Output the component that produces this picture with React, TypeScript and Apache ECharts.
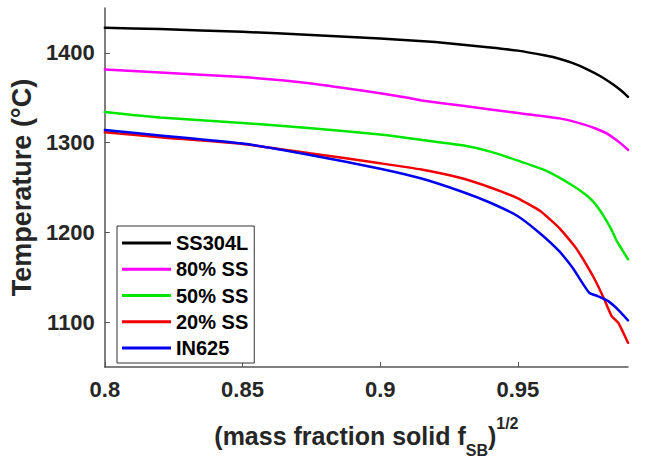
import React, { useEffect, useRef } from "react";
import * as echarts from "echarts";

const seriesNames = ["SS304L", "80% SS", "50% SS", "20% SS", "IN625"];
const seriesColors = ["#000000", "#ff00ff", "#00e600", "#f00000", "#0000f0"];

const ss304lX = [0.8, 0.82, 0.85, 0.875, 0.9, 0.92, 0.94, 0.95, 0.96, 0.965, 0.97, 0.975, 0.98, 0.985, 0.9875, 0.99];
const ss304lY = [1428, 1426.5, 1423.5, 1420, 1416, 1412, 1406, 1402.5, 1397, 1393.5, 1388.5, 1382, 1374, 1364, 1358, 1351];

const ss80X = [0.8, 0.82, 0.85, 0.875, 0.9, 0.91, 0.915, 0.93, 0.95, 0.955, 0.965, 0.972, 0.978, 0.983, 0.987, 0.99];
const ss80Y = [1381.5, 1378, 1373, 1366, 1355, 1350, 1347, 1341, 1333, 1331, 1327, 1322, 1316, 1309, 1300, 1292];

const ss50X = [0.8, 0.82, 0.85, 0.875, 0.9, 0.92, 0.93, 0.94, 0.95, 0.96, 0.97, 0.975, 0.978, 0.981, 0.984, 0.986, 0.988, 0.99];
const ss50Y = [1334, 1328, 1322, 1316, 1309, 1301, 1297, 1290, 1280, 1269, 1252, 1241, 1232, 1219, 1203, 1190, 1180, 1170];

const ss20X = [0.8, 0.82, 0.85, 0.875, 0.9, 0.915, 0.93, 0.94, 0.95, 0.958, 0.965, 0.971, 0.9775, 0.981, 0.984, 0.9865, 0.988, 0.99];
const ss20Y = [1311.5, 1306, 1298.5, 1288, 1277, 1270, 1260, 1250, 1238, 1224, 1205, 1183, 1150, 1128, 1107, 1099, 1090, 1077];

const in625X = [0.8, 0.82, 0.85, 0.875, 0.9, 0.915, 0.93, 0.94, 0.95, 0.958, 0.965, 0.97, 0.974, 0.976, 0.979, 0.9825, 0.985, 0.987, 0.99];
const in625Y = [1314, 1308, 1299, 1286, 1271, 1260, 1245, 1233, 1218, 1199, 1179, 1160, 1141, 1132.5, 1129, 1124, 1118, 1112, 1102];

const xTicks = [0.8, 0.85, 0.9, 0.95];
const yTicks = [1100, 1200, 1300, 1400];

const allX = [ss304lX, ss80X, ss50X, ss20X, in625X];
const allY = [ss304lY, ss80Y, ss50Y, ss20Y, in625Y];

const FONT = "Liberation Sans, Arial, Helvetica, sans-serif";

export default function App() {
  const ref = useRef<HTMLDivElement>(null);
  useEffect(() => {
    if (!ref.current) return;
    const chart = echarts.init(ref.current, null, { renderer: "svg" });
    const axisColor = "#555555";
    chart.setOption({
      animation: false,
      backgroundColor: "#ffffff",
      grid: { left: 103, top: 8, right: 19, bottom: 87, containLabel: false },
      legend: {
        orient: "vertical",
        left: 117,
        top: 226,
        padding: [7, 6, 5, 5],
        itemGap: 6.25,
        itemWidth: 49,
        itemHeight: 3,
        icon: "rect",
        borderColor: "#333333",
        borderWidth: 1,
        backgroundColor: "#ffffff",
        textStyle: { fontFamily: FONT, fontWeight: "bold", fontSize: 20, color: "#000000", lineHeight: 20 },
        data: seriesNames,
      },
      xAxis: {
        type: "value",
        min: 0.8,
        max: 0.99,
        name: "{a|(mass fraction solid f}{sub|SB}{a|)}{sup|1/2}",
        nameLocation: "middle",
        nameGap: 47,
        nameTextStyle: {
          fontFamily: FONT,
          fontWeight: "bold",
          fontSize: 25,
          color: "#262626",
          rich: {
            a: { fontFamily: FONT, fontWeight: "bold", fontSize: 25, color: "#262626", verticalAlign: "middle" },
            sub: { fontFamily: FONT, fontWeight: "bold", fontSize: 16, color: "#262626", padding: [28, 0, 0, 0], verticalAlign: "middle" },
            sup: { fontFamily: FONT, fontWeight: "bold", fontSize: 16, color: "#262626", padding: [0, 0, 26, 0], verticalAlign: "middle" },
          },
        },
        axisLine: { show: true, onZero: false, lineStyle: { color: axisColor, width: 1.5 } },
        axisTick: { show: true, inside: true, length: 5, customValues: xTicks, lineStyle: { color: axisColor, width: 1 } },
        axisLabel: {
          customValues: xTicks,
          margin: 11,
          fontFamily: FONT,
          fontWeight: "bold",
          fontSize: 22,
          color: "#262626",
          formatter: (v: number) => String(v),
        },
        splitLine: { show: false },
      },
      yAxis: {
        type: "value",
        min: 1050,
        max: 1450,
        name: "Temperature (°C)",
        nameLocation: "middle",
        nameGap: 63,
        nameTextStyle: { fontFamily: FONT, fontWeight: "bold", fontSize: 27, color: "#262626" },
        axisLine: { show: true, onZero: false, lineStyle: { color: axisColor, width: 1.5 } },
        axisTick: { show: true, inside: true, length: 5, customValues: yTicks, lineStyle: { color: axisColor, width: 1 } },
        axisLabel: {
          customValues: yTicks,
          margin: 10,
          fontFamily: FONT,
          fontWeight: "bold",
          fontSize: 22,
          color: "#262626",
          formatter: (v: number) => String(v),
        },
        splitLine: { show: false },
      },
      series: seriesNames.map((name, i) => ({
        name,
        type: "line",
        data: allX[i].map((x, j) => [x, allY[i][j]]),
        showSymbol: false,
        symbol: "none",
        smooth: 0.15,
        lineStyle: { color: seriesColors[i], width: 2.5, join: "round", cap: "round" },
        itemStyle: { color: seriesColors[i] },
      })),
    });
    return () => chart.dispose();
  }, []);
  return <div ref={ref} style={{ position: "fixed", left: 0, top: 0, width: 647, height: 463 }} />;
}
